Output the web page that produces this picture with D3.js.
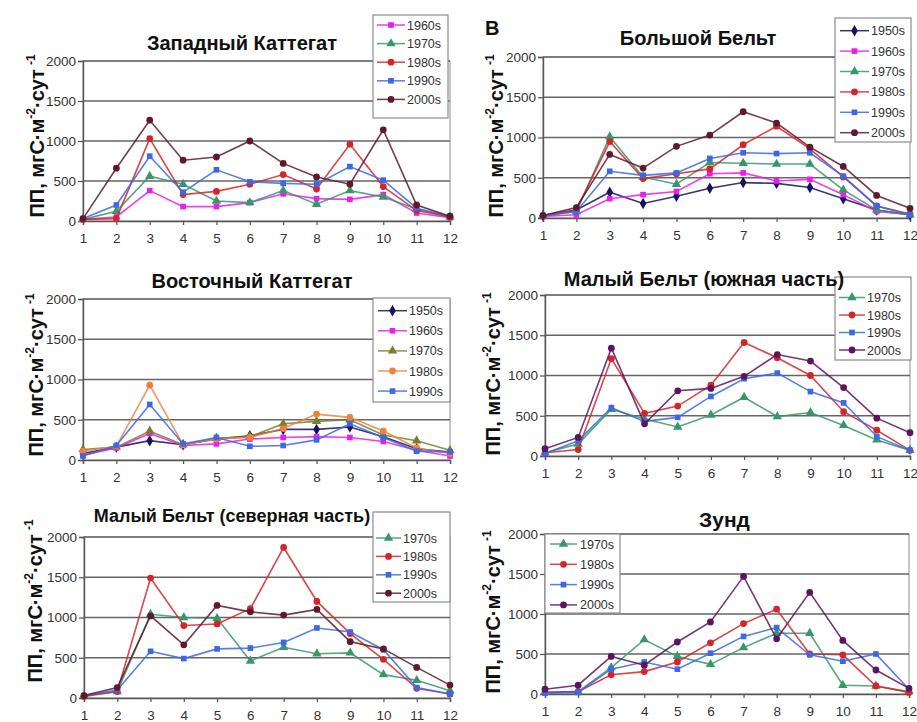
<!DOCTYPE html>
<html>
<head>
<meta charset="utf-8">
<script src="https://cdn.jsdelivr.net/npm/d3@7"></script>
<style>
  body { margin: 0; background: #fff; }
  svg { display: block; }
  text { font-family: "Liberation Sans", Arial, sans-serif; }
</style>
</head>
<body>
<svg id="chart" width="917" height="722"></svg>
<script>
// Months on the x axis and the shared y ticks (ПП, мгС·м⁻²·сут⁻¹)
const months = [1, 2, 3, 4, 5, 6, 7, 8, 9, 10, 11, 12];
const yTicks = [0, 500, 1000, 1500, 2000];

// Западный Каттегат
const wk1960s = [20, 50, 380, 180, 180, 230, 340, 280, 270, 330, 100, 40];
const wk1970s = [20, 120, 560, 460, 250, 230, 380, 210, 380, 300, 150, 50];
const wk1980s = [20, 30, 1030, 330, 370, 460, 580, 400, 960, 430, 130, 50];
const wk1990s = [30, 200, 810, 360, 640, 490, 470, 460, 680, 510, 160, 60];
const wk2000s = [30, 660, 1260, 760, 800, 1000, 720, 550, 460, 1140, 200, 60];

// Большой Бельт
const gb1950s = [30, 100, 320, 180, 270, 370, 440, 430, 380, 240, 100, 40];
const gb1960s = [20, 40, 240, 290, 330, 550, 560, 460, 480, 290, 80, 40];
const gb1970s = [30, 80, 1010, 510, 420, 690, 680, 670, 670, 350, 100, 40];
const gb1980s = [30, 100, 950, 490, 550, 610, 910, 1140, 860, 510, 150, 50];
const gb1990s = [30, 80, 580, 530, 560, 740, 810, 800, 810, 520, 150, 40];
const gb2000s = [30, 130, 790, 620, 890, 1030, 1320, 1180, 880, 640, 280, 120];

// Восточный Каттегат
const ek1950s = [80, 160, 240, 190, 260, 300, 380, 380, 410, 290, 140, 100];
const ek1960s = [60, 150, 330, 180, 200, 260, 280, 290, 280, 230, 120, 50];
const ek1970s = [130, 160, 360, 190, 270, 290, 450, 480, 500, 310, 240, 120];
const ek1980s = [110, 170, 930, 190, 260, 280, 390, 570, 530, 360, 150, 80];
const ek1990s = [50, 180, 690, 200, 280, 170, 180, 250, 450, 280, 110, 100];

// Малый Бельт (южная часть)
const ms1970s = [40, 150, 580, 460, 360, 510, 730, 490, 540, 380, 200, 70];
const ms1980s = [40, 80, 1210, 530, 620, 880, 1410, 1220, 1000, 550, 320, 70];
const ms1990s = [30, 190, 600, 430, 480, 740, 960, 1030, 800, 660, 240, 70];
const ms2000s = [90, 230, 1340, 400, 810, 840, 990, 1260, 1180, 850, 470, 290];

// Малый Бельт (северная часть)
const mn1970s = [30, 80, 1040, 1000, 990, 460, 630, 550, 560, 290, 220, 90];
const mn1980s = [20, 80, 1490, 900, 920, 1110, 1870, 1200, 800, 480, 120, 50];
const mn1990s = [30, 100, 580, 490, 610, 620, 690, 870, 820, 600, 130, 50];
const mn2000s = [30, 130, 1020, 660, 1150, 1070, 1030, 1100, 700, 610, 380, 160];

// Зунд
const zs1970s = [20, 30, 330, 680, 470, 370, 580, 760, 760, 110, 100, 30];
const zs1980s = [20, 30, 240, 280, 400, 640, 880, 1060, 500, 490, 100, 20];
const zs1990s = [10, 20, 310, 400, 310, 510, 720, 830, 490, 410, 500, 60];
const zs2000s = [60, 110, 470, 360, 650, 900, 1470, 690, 1270, 670, 300, 70];

// Series styles
const st = {
  d50:  { color: "#14145e", shape: d3.symbolDiamond },
  d60:  { color: "#e81fe8", shape: d3.symbolSquare },
  d70:  { color: "#36986a", shape: d3.symbolTriangle },
  d70o: { color: "#7c7c2c", shape: d3.symbolTriangle },
  d80:  { color: "#d3262a", shape: d3.symbolCircle },
  d80o: { color: "#f0803c", shape: d3.symbolCircle },
  d90:  { color: "#3a68e6", shape: d3.symbolSquare },
  d00:  { color: "#5e1a2c", shape: d3.symbolCircle },
  d00p: { color: "#5c1460", shape: d3.symbolCircle }
};

const panels = [
  { title: "Западный Каттегат", tx: 242, ty: 50, ts: 20,
    x0: 83, x1: 450, yB: 221, yT: 61, ax: 44, ay: 136,
    lg: { x: 373, y: 15, w: 75, h: 103, r0: 25, step: 18.6, l0: 377, l1: 405, t: 407 },
    series: [["1960s", wk1960s, st.d60], ["1970s", wk1970s, st.d70], ["1980s", wk1980s, st.d80],
             ["1990s", wk1990s, st.d90], ["2000s", wk2000s, st.d00]] },
  { title: "Большой Бельт", tx: 698, ty: 45, ts: 20,
    x0: 543, x1: 910, yB: 218, yT: 57, ax: 503, ay: 136,
    lg: { x: 835, y: 18, w: 76, h: 124, r0: 30.7, step: 20.4, l0: 840, l1: 869, t: 871 },
    series: [["1950s", gb1950s, st.d50], ["1960s", gb1960s, st.d60], ["1970s", gb1970s, st.d70],
             ["1980s", gb1980s, st.d80], ["1990s", gb1990s, st.d90], ["2000s", gb2000s, st.d00]] },
  { title: "Восточный Каттегат", tx: 252, ty: 288, ts: 20,
    x0: 83, x1: 450, yB: 460, yT: 299, ax: 43, ay: 375,
    lg: { x: 373, y: 298, w: 77, h: 104, r0: 310.7, step: 20.1, l0: 378, l1: 407, t: 409 },
    series: [["1950s", ek1950s, st.d50], ["1960s", ek1960s, st.d60], ["1970s", ek1970s, st.d70o],
             ["1980s", ek1980s, st.d80o], ["1990s", ek1990s, st.d90]] },
  { title: "Малый Бельт (южная часть)", tx: 704, ty: 285.5, ts: 20,
    x0: 545, x1: 910, yB: 456, yT: 295, ax: 500, ay: 374,
    lg: { x: 835, y: 277, w: 76, h: 83, r0: 297.5, step: 17.5, l0: 839, l1: 865, t: 867 },
    series: [["1970s", ms1970s, st.d70], ["1980s", ms1980s, st.d80], ["1990s", ms1990s, st.d90],
             ["2000s", ms2000s, st.d00p]] },
  { title: "Малый Бельт (северная часть)", tx: 232, ty: 521.7, ts: 18,
    x0: 84, x1: 450, yB: 698, yT: 537, ax: 42, ay: 601,
    lg: { x: 373, y: 512, w: 77, h: 90, r0: 538, step: 18.4, l0: 376, l1: 401, t: 403 },
    series: [["1970s", mn1970s, st.d70], ["1980s", mn1980s, st.d80], ["1990s", mn1990s, st.d90],
             ["2000s", mn2000s, st.d00]] },
  { title: "Зунд", tx: 724.5, ty: 527, ts: 21,
    x0: 545, x1: 909, yB: 694, yT: 534, ax: 500, ay: 612,
    lg: { x: 545, y: 534, w: 75, h: 79, r0: 544, step: 20.3, l0: 550, l1: 577, t: 580 },
    series: [["1970s", zs1970s, st.d70], ["1980s", zs1980s, st.d80], ["1990s", zs1990s, st.d90],
             ["2000s", zs2000s, st.d00p]] }
];

const svg = d3.select("#chart");

// marker path for a given symbol type
function sym(shape) {
  const size = shape === d3.symbolSquare ? 32 : shape === d3.symbolCircle ? 36 : 38;
  return d3.symbol().type(shape).size(size)();
}

panels.forEach(p => {
  const g = svg.append("g");
  const x = d3.scaleLinear().domain([1, 12]).range([p.x0, p.x1]);
  const y = d3.scaleLinear().domain([0, 2000]).range([p.yB, p.yT]);

  // plot frame
  g.append("rect")
    .attr("x", p.x0).attr("y", p.yT)
    .attr("width", p.x1 - p.x0).attr("height", p.yB - p.yT)
    .attr("fill", "#fff").attr("stroke", "#8c8c8c").attr("stroke-width", 1);

  // horizontal gridlines
  g.selectAll(".grid").data(yTicks.filter(v => v > 0)).join("line")
    .attr("x1", p.x0).attr("x2", p.x1)
    .attr("y1", d => y(d)).attr("y2", d => y(d))
    .attr("stroke", "#666").attr("stroke-width", 1.5);

  // y axis
  const ya = g.append("g").attr("transform", `translate(${p.x0},0)`)
    .call(d3.axisLeft(y).tickValues(yTicks).tickSize(5).tickPadding(2).tickFormat(d3.format("d")));
  ya.select(".domain").attr("stroke", "#555").attr("stroke-width", 1.4);
  ya.selectAll(".tick line").attr("stroke", "#555").attr("stroke-width", 1.2);
  ya.selectAll(".tick text").attr("fill", "#333").attr("font-size", 13.5)
    .attr("font-family", "'Liberation Sans', Arial, sans-serif");

  // x axis
  const xa = g.append("g").attr("transform", `translate(0,${p.yB})`)
    .call(d3.axisBottom(x).tickValues(months).tickSize(4).tickPadding(8).tickFormat(d3.format("d")));
  xa.select(".domain").attr("stroke", "#555").attr("stroke-width", 1.4);
  xa.selectAll(".tick line").attr("stroke", "#555").attr("stroke-width", 1.2);
  xa.selectAll(".tick text").attr("fill", "#333").attr("font-size", 13.5)
    .attr("font-family", "'Liberation Sans', Arial, sans-serif");

  // series lines and markers
  const line = d3.line().x((d, i) => x(months[i])).y(d => y(d));
  p.series.forEach(([name, vals, s]) => {
    g.append("path").datum(vals)
      .attr("d", line).attr("fill", "none")
      .attr("stroke", s.color).attr("stroke-width", 1.6).attr("stroke-opacity", 0.85);
    g.selectAll(null).data(vals).join("path")
      .attr("transform", (d, i) => `translate(${x(months[i])},${y(d)})`)
      .attr("d", sym(s.shape)).attr("fill", s.color);
  });

  // legend
  const L = p.lg;
  const lg = g.append("g");
  lg.append("rect").attr("x", L.x).attr("y", L.y).attr("width", L.w).attr("height", L.h)
    .attr("fill", "#fff").attr("stroke", "#8c8c8c").attr("stroke-width", 1.2);
  p.series.forEach(([name, vals, s], i) => {
    const ry = L.r0 + i * L.step;
    lg.append("line").attr("x1", L.l0).attr("x2", L.l1).attr("y1", ry).attr("y2", ry)
      .attr("stroke", s.color).attr("stroke-width", 1.5).attr("stroke-opacity", 0.85);
    lg.append("path").attr("transform", `translate(${(L.l0 + L.l1) / 2},${ry})`)
      .attr("d", sym(s.shape)).attr("fill", s.color);
    lg.append("text").attr("x", L.t).attr("y", ry).attr("dy", "0.36em")
      .attr("font-size", 12.5).attr("fill", "#333").text(name);
  });

  // panel title
  g.append("text").attr("x", p.tx).attr("y", p.ty).attr("text-anchor", "middle")
    .attr("font-size", p.ts).attr("font-weight", "bold").attr("fill", "#111").text(p.title);

  // y axis title with superscripts
  const yt = g.append("text")
    .attr("transform", `translate(${p.ax},${p.ay}) rotate(-90)`)
    .attr("text-anchor", "middle").attr("font-size", 20).attr("font-weight", "bold").attr("fill", "#111");
  yt.append("tspan").text("ПП, мгС·м");
  yt.append("tspan").attr("font-size", 12).attr("dy", -9).text("-2");
  yt.append("tspan").attr("dy", 9).text("·сут");
  yt.append("tspan").attr("font-size", 12).attr("dy", -9).attr("dx", 4).text("-1");
});

// panel letter
svg.append("text").attr("x", 485).attr("y", 35).attr("font-size", 20)
  .attr("font-weight", "bold").attr("fill", "#111").text("B");
</script>
</body>
</html>
